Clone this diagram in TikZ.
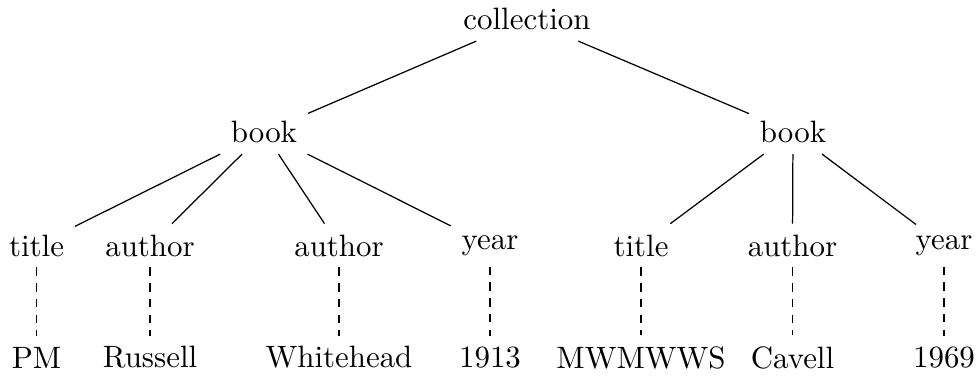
\documentclass[tikz,border=0pt]{standalone}
\begin{document}
\begin{tikzpicture}[x=0.3236pt, y=-0.3236pt,
  tn/.style={inner sep=3.33pt},
  edge/.style={line width=0.4pt},
  leafedge/.style={line width=0.4pt, dash pattern=on 2.8pt off 2.3pt}]
\useasboundingbox (0,0) rectangle (976,376);
% root and inner nodes
\node[tn] (coll) at (527,19.3) {collection};
\node[tn] (bk1) at (264,132.3) {book};
\node[tn] (bk2) at (793,132.3) {book};
% element nodes
\node[tn] (t1) at (36.5,245.5) {title};
\node[tn] (a1) at (150,245.5) {author};
\node[tn] (a2) at (339,245.5) {author};
\node[tn] (y1) at (490,245.5) {year};
\node[tn] (t2) at (641,245.5) {title};
\node[tn] (a3) at (792.5,245.5) {author};
\node[tn] (y2) at (944,245.5) {year};
% text values
\node[tn] (v1) at (36.5,357.5) {PM};
\node[tn] (v2) at (150,357.5) {Russell};
\node[tn] (v3) at (339,357.5) {Whitehead};
\node[tn] (v4) at (490,357.5) {1913};
\node[tn] (v5) at (641,357.5) {MWMWWS};
\node[tn] (v6) at (792.5,357.5) {Cavell};
\node[tn] (v7) at (944,357.5) {1969};
% tree edges
\draw[edge] (coll) -- (bk1);
\draw[edge] (coll) -- (bk2);
\foreach \c in {t1,a1,a2,y1} \draw[edge] (bk1) -- (\c);
\foreach \c in {t2,a3,y2} \draw[edge] (bk2) -- (\c);
% element-to-text links
\foreach \e/\v in {t1/v1,a1/v2,a2/v3,y1/v4,t2/v5,a3/v6,y2/v7}
  \draw[leafedge] (\e.south) -- (\v.north);
\end{tikzpicture}
\end{document}
